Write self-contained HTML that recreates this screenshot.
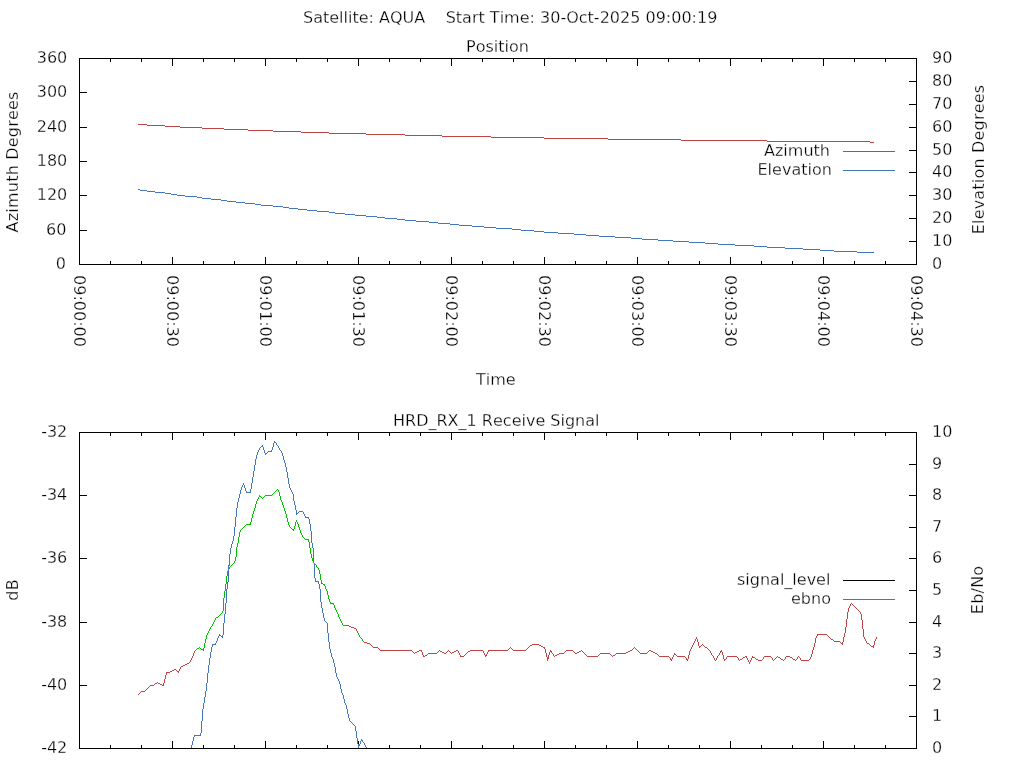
<!DOCTYPE html>
<html><head><meta charset="utf-8"><title>Satellite: AQUA</title>
<style>html,body{margin:0;padding:0;background:#fff;width:1024px;height:768px;overflow:hidden}svg{display:block;will-change:transform}text{fill:#000;stroke:#fff;stroke-width:0.28px;font-kerning:none;white-space:pre}</style>
</head><body>
<svg width="1024" height="768" viewBox="0 0 1024 768" font-family="DejaVu Sans, Liberation Sans, sans-serif" font-size="16" fill="#000" shape-rendering="crispEdges">
<text x="303" y="23" text-anchor="start" textLength="414.38" lengthAdjust="spacing" xml:space="preserve">Satellite: AQUA    Start Time: 30-Oct-2025 09:00:19</text>
<text x="466" y="52" text-anchor="start" textLength="62.92" lengthAdjust="spacing" >Position</text>
<rect x="79.5" y="58.5" width="837" height="206" fill="none" stroke="#000"/>
<rect x="110" y="261" width="1" height="4"/>
<rect x="110" y="58" width="1" height="4"/>
<rect x="141" y="261" width="1" height="4"/>
<rect x="141" y="58" width="1" height="4"/>
<rect x="172" y="257" width="1" height="8"/>
<rect x="172" y="58" width="1" height="8"/>
<rect x="203" y="261" width="1" height="4"/>
<rect x="203" y="58" width="1" height="4"/>
<rect x="234" y="261" width="1" height="4"/>
<rect x="234" y="58" width="1" height="4"/>
<rect x="265" y="257" width="1" height="8"/>
<rect x="265" y="58" width="1" height="8"/>
<rect x="296" y="261" width="1" height="4"/>
<rect x="296" y="58" width="1" height="4"/>
<rect x="327" y="261" width="1" height="4"/>
<rect x="327" y="58" width="1" height="4"/>
<rect x="358" y="257" width="1" height="8"/>
<rect x="358" y="58" width="1" height="8"/>
<rect x="389" y="261" width="1" height="4"/>
<rect x="389" y="58" width="1" height="4"/>
<rect x="420" y="261" width="1" height="4"/>
<rect x="420" y="58" width="1" height="4"/>
<rect x="451" y="257" width="1" height="8"/>
<rect x="451" y="58" width="1" height="8"/>
<rect x="482" y="261" width="1" height="4"/>
<rect x="482" y="58" width="1" height="4"/>
<rect x="513" y="261" width="1" height="4"/>
<rect x="513" y="58" width="1" height="4"/>
<rect x="544" y="257" width="1" height="8"/>
<rect x="544" y="58" width="1" height="8"/>
<rect x="575" y="261" width="1" height="4"/>
<rect x="575" y="58" width="1" height="4"/>
<rect x="606" y="261" width="1" height="4"/>
<rect x="606" y="58" width="1" height="4"/>
<rect x="637" y="257" width="1" height="8"/>
<rect x="637" y="58" width="1" height="8"/>
<rect x="668" y="261" width="1" height="4"/>
<rect x="668" y="58" width="1" height="4"/>
<rect x="699" y="261" width="1" height="4"/>
<rect x="699" y="58" width="1" height="4"/>
<rect x="730" y="257" width="1" height="8"/>
<rect x="730" y="58" width="1" height="8"/>
<rect x="761" y="261" width="1" height="4"/>
<rect x="761" y="58" width="1" height="4"/>
<rect x="792" y="261" width="1" height="4"/>
<rect x="792" y="58" width="1" height="4"/>
<rect x="823" y="257" width="1" height="8"/>
<rect x="823" y="58" width="1" height="8"/>
<rect x="854" y="261" width="1" height="4"/>
<rect x="854" y="58" width="1" height="4"/>
<rect x="885" y="261" width="1" height="4"/>
<rect x="885" y="58" width="1" height="4"/>
<rect x="79" y="264" width="8" height="1"/>
<text x="66" y="269" text-anchor="end" textLength="10.19" lengthAdjust="spacing" >0</text>
<rect x="79" y="230" width="8" height="1"/>
<text x="66.5" y="235" text-anchor="end" textLength="20.38" lengthAdjust="spacing" >60</text>
<rect x="79" y="195" width="8" height="1"/>
<text x="67.3" y="200" text-anchor="end" textLength="30.56" lengthAdjust="spacing" >120</text>
<rect x="79" y="161" width="8" height="1"/>
<text x="67.3" y="166" text-anchor="end" textLength="30.56" lengthAdjust="spacing" >180</text>
<rect x="79" y="127" width="8" height="1"/>
<text x="67.3" y="132" text-anchor="end" textLength="30.56" lengthAdjust="spacing" >240</text>
<rect x="79" y="92" width="8" height="1"/>
<text x="67.3" y="97" text-anchor="end" textLength="30.56" lengthAdjust="spacing" >300</text>
<rect x="79" y="58" width="8" height="1"/>
<text x="67.3" y="63" text-anchor="end" textLength="30.56" lengthAdjust="spacing" >360</text>
<rect x="909" y="264" width="8" height="1"/>
<text x="932" y="269" text-anchor="start" textLength="10.19" lengthAdjust="spacing" >0</text>
<rect x="909" y="241" width="8" height="1"/>
<text x="932" y="246" text-anchor="start" textLength="20.38" lengthAdjust="spacing" >10</text>
<rect x="909" y="218" width="8" height="1"/>
<text x="932" y="223" text-anchor="start" textLength="20.38" lengthAdjust="spacing" >20</text>
<rect x="909" y="195" width="8" height="1"/>
<text x="932" y="200" text-anchor="start" textLength="20.38" lengthAdjust="spacing" >30</text>
<rect x="909" y="172" width="8" height="1"/>
<text x="932" y="177" text-anchor="start" textLength="20.38" lengthAdjust="spacing" >40</text>
<rect x="909" y="150" width="8" height="1"/>
<text x="932" y="155" text-anchor="start" textLength="20.38" lengthAdjust="spacing" >50</text>
<rect x="909" y="127" width="8" height="1"/>
<text x="932" y="132" text-anchor="start" textLength="20.38" lengthAdjust="spacing" >60</text>
<rect x="909" y="104" width="8" height="1"/>
<text x="932" y="109" text-anchor="start" textLength="20.38" lengthAdjust="spacing" >70</text>
<rect x="909" y="81" width="8" height="1"/>
<text x="932" y="86" text-anchor="start" textLength="20.38" lengthAdjust="spacing" >80</text>
<rect x="909" y="58" width="8" height="1"/>
<text x="932" y="63" text-anchor="start" textLength="20.38" lengthAdjust="spacing" >90</text>
<text transform="translate(74,275) rotate(90)" x="0" y="0" text-anchor="start" textLength="71.91" lengthAdjust="spacing">09:00:00</text>
<text transform="translate(167,275) rotate(90)" x="0" y="0" text-anchor="start" textLength="71.91" lengthAdjust="spacing">09:00:30</text>
<text transform="translate(260,275) rotate(90)" x="0" y="0" text-anchor="start" textLength="71.91" lengthAdjust="spacing">09:01:00</text>
<text transform="translate(353,275) rotate(90)" x="0" y="0" text-anchor="start" textLength="71.91" lengthAdjust="spacing">09:01:30</text>
<text transform="translate(446,275) rotate(90)" x="0" y="0" text-anchor="start" textLength="71.91" lengthAdjust="spacing">09:02:00</text>
<text transform="translate(539,275) rotate(90)" x="0" y="0" text-anchor="start" textLength="71.91" lengthAdjust="spacing">09:02:30</text>
<text transform="translate(632,275) rotate(90)" x="0" y="0" text-anchor="start" textLength="71.91" lengthAdjust="spacing">09:03:00</text>
<text transform="translate(725,275) rotate(90)" x="0" y="0" text-anchor="start" textLength="71.91" lengthAdjust="spacing">09:03:30</text>
<text transform="translate(818,275) rotate(90)" x="0" y="0" text-anchor="start" textLength="71.91" lengthAdjust="spacing">09:04:00</text>
<text transform="translate(911,275) rotate(90)" x="0" y="0" text-anchor="start" textLength="71.91" lengthAdjust="spacing">09:04:30</text>
<text x="476" y="385" text-anchor="start" textLength="39.67" lengthAdjust="spacing" >Time</text>
<text transform="translate(18,162) rotate(-90)" x="0" y="0" text-anchor="middle" textLength="140.76" lengthAdjust="spacing">Azimuth Degrees</text>
<text transform="translate(983.5,159.6) rotate(-90)" x="0" y="0" text-anchor="middle" textLength="149.32" lengthAdjust="spacing">Elevation Degrees</text>
<text x="764" y="156" text-anchor="start" textLength="65.97" lengthAdjust="spacing" >Azimuth</text>
<line x1="843" y1="151.5" x2="895" y2="151.5" stroke="#c04444"/>
<text x="757.5" y="175" text-anchor="start" textLength="74.36" lengthAdjust="spacing" >Elevation</text>
<line x1="843" y1="170.5" x2="895" y2="170.5" stroke="#4277bd"/>
<text x="393" y="426" text-anchor="start" textLength="206.5" lengthAdjust="spacing" >HRD_RX_1 Receive Signal</text>
<rect x="79.5" y="432.5" width="837" height="316" fill="none" stroke="#000"/>
<rect x="110" y="745" width="1" height="4"/>
<rect x="110" y="432" width="1" height="4"/>
<rect x="141" y="745" width="1" height="4"/>
<rect x="141" y="432" width="1" height="4"/>
<rect x="172" y="741" width="1" height="8"/>
<rect x="172" y="432" width="1" height="8"/>
<rect x="203" y="745" width="1" height="4"/>
<rect x="203" y="432" width="1" height="4"/>
<rect x="234" y="745" width="1" height="4"/>
<rect x="234" y="432" width="1" height="4"/>
<rect x="265" y="741" width="1" height="8"/>
<rect x="265" y="432" width="1" height="8"/>
<rect x="296" y="745" width="1" height="4"/>
<rect x="296" y="432" width="1" height="4"/>
<rect x="327" y="745" width="1" height="4"/>
<rect x="327" y="432" width="1" height="4"/>
<rect x="358" y="741" width="1" height="8"/>
<rect x="358" y="432" width="1" height="8"/>
<rect x="389" y="745" width="1" height="4"/>
<rect x="389" y="432" width="1" height="4"/>
<rect x="420" y="745" width="1" height="4"/>
<rect x="420" y="432" width="1" height="4"/>
<rect x="451" y="741" width="1" height="8"/>
<rect x="451" y="432" width="1" height="8"/>
<rect x="482" y="745" width="1" height="4"/>
<rect x="482" y="432" width="1" height="4"/>
<rect x="513" y="745" width="1" height="4"/>
<rect x="513" y="432" width="1" height="4"/>
<rect x="544" y="741" width="1" height="8"/>
<rect x="544" y="432" width="1" height="8"/>
<rect x="575" y="745" width="1" height="4"/>
<rect x="575" y="432" width="1" height="4"/>
<rect x="606" y="745" width="1" height="4"/>
<rect x="606" y="432" width="1" height="4"/>
<rect x="637" y="741" width="1" height="8"/>
<rect x="637" y="432" width="1" height="8"/>
<rect x="668" y="745" width="1" height="4"/>
<rect x="668" y="432" width="1" height="4"/>
<rect x="699" y="745" width="1" height="4"/>
<rect x="699" y="432" width="1" height="4"/>
<rect x="730" y="741" width="1" height="8"/>
<rect x="730" y="432" width="1" height="8"/>
<rect x="761" y="745" width="1" height="4"/>
<rect x="761" y="432" width="1" height="4"/>
<rect x="792" y="745" width="1" height="4"/>
<rect x="792" y="432" width="1" height="4"/>
<rect x="823" y="741" width="1" height="8"/>
<rect x="823" y="432" width="1" height="8"/>
<rect x="854" y="745" width="1" height="4"/>
<rect x="854" y="432" width="1" height="4"/>
<rect x="885" y="745" width="1" height="4"/>
<rect x="885" y="432" width="1" height="4"/>
<rect x="79" y="748" width="8" height="1"/>
<text x="67.3" y="753" text-anchor="end" textLength="26.16" lengthAdjust="spacing" >-42</text>
<rect x="79" y="685" width="8" height="1"/>
<text x="67.3" y="690" text-anchor="end" textLength="26.16" lengthAdjust="spacing" >-40</text>
<rect x="79" y="622" width="8" height="1"/>
<text x="67.3" y="627" text-anchor="end" textLength="26.16" lengthAdjust="spacing" >-38</text>
<rect x="79" y="558" width="8" height="1"/>
<text x="67.3" y="563" text-anchor="end" textLength="26.16" lengthAdjust="spacing" >-36</text>
<rect x="79" y="495" width="8" height="1"/>
<text x="67.3" y="500" text-anchor="end" textLength="26.16" lengthAdjust="spacing" >-34</text>
<rect x="79" y="432" width="8" height="1"/>
<text x="67.3" y="437" text-anchor="end" textLength="26.16" lengthAdjust="spacing" >-32</text>
<rect x="909" y="748" width="8" height="1"/>
<text x="932" y="753" text-anchor="start" textLength="10.19" lengthAdjust="spacing" >0</text>
<rect x="909" y="716" width="8" height="1"/>
<text x="932" y="721" text-anchor="start" textLength="10.19" lengthAdjust="spacing" >1</text>
<rect x="909" y="685" width="8" height="1"/>
<text x="932" y="690" text-anchor="start" textLength="10.19" lengthAdjust="spacing" >2</text>
<rect x="909" y="653" width="8" height="1"/>
<text x="932" y="658" text-anchor="start" textLength="10.19" lengthAdjust="spacing" >3</text>
<rect x="909" y="622" width="8" height="1"/>
<text x="932" y="627" text-anchor="start" textLength="10.19" lengthAdjust="spacing" >4</text>
<rect x="909" y="590" width="8" height="1"/>
<text x="932" y="595" text-anchor="start" textLength="10.19" lengthAdjust="spacing" >5</text>
<rect x="909" y="558" width="8" height="1"/>
<text x="932" y="563" text-anchor="start" textLength="10.19" lengthAdjust="spacing" >6</text>
<rect x="909" y="527" width="8" height="1"/>
<text x="932" y="532" text-anchor="start" textLength="10.19" lengthAdjust="spacing" >7</text>
<rect x="909" y="495" width="8" height="1"/>
<text x="932" y="500" text-anchor="start" textLength="10.19" lengthAdjust="spacing" >8</text>
<rect x="909" y="464" width="8" height="1"/>
<text x="932" y="469" text-anchor="start" textLength="10.19" lengthAdjust="spacing" >9</text>
<rect x="909" y="432" width="8" height="1"/>
<text x="932" y="437" text-anchor="start" textLength="20.38" lengthAdjust="spacing" >10</text>
<text transform="translate(18,590) rotate(-90)" x="0" y="0" text-anchor="middle" textLength="21.56" lengthAdjust="spacing">dB</text>
<text transform="translate(983,590) rotate(-90)" x="0" y="0" text-anchor="middle" textLength="48.37" lengthAdjust="spacing">Eb/No</text>
<text x="737" y="585" text-anchor="start" textLength="93.42" lengthAdjust="spacing" >signal_level</text>
<line x1="843" y1="580.5" x2="895" y2="580.5" stroke="#000"/>
<text x="791" y="604" text-anchor="start" textLength="39.94" lengthAdjust="spacing" >ebno</text>
<line x1="843" y1="599.5" x2="895" y2="599.5" stroke="#4277bd"/>
<path d="M138 124h9v1h-9zM147 125h18v1h-18zM165 126h15v1h-15zM180 127h22v1h-22zM202 128h22v1h-22zM224 129h24v1h-24zM248 130h25v1h-25zM273 131h28v1h-28zM301 132h28v1h-28zM329 133h37v1h-37zM366 134h39v1h-39zM405 135h37v1h-37zM442 136h49v1h-49zM491 137h53v1h-53zM544 138h64v1h-64zM608 139h73v1h-73zM681 140h86v1h-86zM767 141h103v1h-103zM870 142h4v1h-4z" fill="#c04444"/>
<path d="M138 189h2v1h-2zM140 190h7v1h-7zM147 191h8v1h-8zM155 192h10v1h-10zM165 193h6v1h-6zM171 194h6v1h-6zM177 195h8v1h-8zM185 196h12v1h-12zM197 197h5v1h-5zM202 198h9v1h-9zM211 199h10v1h-10zM221 200h6v1h-6zM227 201h9v1h-9zM236 202h9v1h-9zM245 203h10v1h-10zM255 204h6v1h-6zM261 205h12v1h-12zM273 206h10v1h-10zM283 207h6v1h-6zM289 208h9v1h-9zM298 209h9v1h-9zM307 210h10v1h-10zM317 211h12v1h-12zM329 212h6v1h-6zM335 213h10v1h-10zM345 214h10v1h-10zM355 215h11v1h-11zM366 216h11v1h-11zM377 217h8v1h-8zM385 218h12v1h-12zM397 219h8v1h-8zM405 220h11v1h-11zM416 221h13v1h-13zM429 222h9v1h-9zM438 223h12v1h-12zM450 224h9v1h-9zM459 225h13v1h-13zM472 226h12v1h-12zM484 227h12v1h-12zM496 228h16v1h-16zM512 229h9v1h-9zM521 230h13v1h-13zM534 231h10v1h-10zM544 232h14v1h-14zM558 233h16v1h-16zM574 234h12v1h-12zM586 235h13v1h-13zM599 236h16v1h-16zM615 237h16v1h-16zM631 238h11v1h-11zM642 239h16v1h-16zM658 240h15v1h-15zM673 241h16v1h-16zM689 242h16v1h-16zM705 243h13v1h-13zM718 244h17v1h-17zM735 245h19v1h-19zM754 246h13v1h-13zM767 247h18v1h-18zM785 248h18v1h-18zM803 249h17v1h-17zM820 250h14v1h-14zM834 251h23v1h-23zM857 252h17v1h-17z" fill="#4277bd"/>
<g shape-rendering="crispEdges">
<path d="M194 651h1v1h-1zM194 652h1v1h-1zM193 653h1v1h-1zM193 654h1v1h-1zM193 655h1v1h-1zM192 656h1v1h-1zM192 657h1v1h-1zM191 658h1v1h-1zM191 659h1v1h-1zM190 660h1v1h-1zM190 661h1v1h-1zM189 662h1v1h-1zM187 663h2v1h-2zM185 664h2v1h-2zM183 665h2v1h-2zM181 666h2v1h-2zM180 667h1v1h-1zM180 668h1v1h-1zM174 669h2v1h-2zM179 669h1v1h-1zM172 670h2v1h-2zM176 670h1v1h-1zM179 670h1v1h-1zM170 671h2v1h-2zM177 671h2v1h-2zM166 672h4v1h-4zM178 672h1v1h-1zM166 673h1v1h-1zM166 674h1v1h-1zM165 675h1v1h-1zM165 676h1v1h-1zM165 677h1v1h-1zM165 678h1v1h-1zM164 679h1v1h-1zM164 680h1v1h-1zM164 681h1v1h-1zM157 682h1v1h-1zM164 682h1v1h-1zM155 683h2v1h-2zM158 683h2v1h-2zM163 683h1v1h-1zM154 684h1v1h-1zM160 684h2v1h-2zM163 684h1v1h-1zM150 685h4v1h-4zM162 685h2v1h-2zM149 686h1v1h-1zM148 687h1v1h-1zM147 688h1v1h-1zM146 689h1v1h-1zM145 690h1v1h-1zM141 691h4v1h-4zM140 692h1v1h-1zM139 693h1v1h-1zM138 694h1v1h-1z" fill="#c04444"/>
<path d="M277 489h1v1h-1zM276 490h1v1h-1zM278 490h1v1h-1zM275 491h1v1h-1zM278 491h1v1h-1zM274 492h1v1h-1zM279 492h1v1h-1zM273 493h1v1h-1zM279 493h1v1h-1zM272 494h1v1h-1zM279 494h1v1h-1zM259 495h1v1h-1zM265 495h7v1h-7zM279 495h1v1h-1zM259 496h2v1h-2zM264 496h1v1h-1zM280 496h1v1h-1zM258 497h1v1h-1zM261 497h1v1h-1zM263 497h1v1h-1zM280 497h1v1h-1zM258 498h1v1h-1zM262 498h1v1h-1zM280 498h1v1h-1zM257 499h1v1h-1zM280 499h1v1h-1zM257 500h1v1h-1zM281 500h1v1h-1zM256 501h1v1h-1zM281 501h1v1h-1zM256 502h1v1h-1zM282 502h1v1h-1zM256 503h1v1h-1zM282 503h1v1h-1zM255 504h1v1h-1zM282 504h1v1h-1zM255 505h1v1h-1zM283 505h1v1h-1zM255 506h1v1h-1zM283 506h1v1h-1zM255 507h1v1h-1zM283 507h1v1h-1zM254 508h1v1h-1zM284 508h1v1h-1zM254 509h1v1h-1zM284 509h1v1h-1zM254 510h1v1h-1zM284 510h1v1h-1zM253 511h1v1h-1zM285 511h1v1h-1zM253 512h1v1h-1zM285 512h1v1h-1zM253 513h1v1h-1zM285 513h1v1h-1zM252 514h1v1h-1zM286 514h1v1h-1zM252 515h1v1h-1zM286 515h1v1h-1zM252 516h1v1h-1zM286 516h1v1h-1zM252 517h1v1h-1zM286 517h1v1h-1zM251 518h1v1h-1zM287 518h1v1h-1zM251 519h1v1h-1zM287 519h1v1h-1zM251 520h1v1h-1zM287 520h1v1h-1zM296 520h1v1h-1zM251 521h1v1h-1zM287 521h1v1h-1zM296 521h1v1h-1zM250 522h1v1h-1zM288 522h1v1h-1zM295 522h1v1h-1zM297 522h1v1h-1zM250 523h1v1h-1zM288 523h1v1h-1zM295 523h1v1h-1zM297 523h1v1h-1zM246 524h5v1h-5zM288 524h1v1h-1zM295 524h1v1h-1zM298 524h1v1h-1zM245 525h1v1h-1zM289 525h1v1h-1zM295 525h1v1h-1zM298 525h1v1h-1zM244 526h1v1h-1zM289 526h1v1h-1zM294 526h1v1h-1zM298 526h1v1h-1zM243 527h1v1h-1zM290 527h1v1h-1zM294 527h1v1h-1zM299 527h1v1h-1zM242 528h1v1h-1zM291 528h1v1h-1zM294 528h1v1h-1zM299 528h1v1h-1zM241 529h1v1h-1zM292 529h2v1h-2zM299 529h1v1h-1zM240 530h1v1h-1zM293 530h1v1h-1zM300 530h1v1h-1zM240 531h1v1h-1zM300 531h1v1h-1zM239 532h1v1h-1zM300 532h1v1h-1zM239 533h1v1h-1zM301 533h1v1h-1zM239 534h1v1h-1zM301 534h1v1h-1zM239 535h1v1h-1zM302 535h1v1h-1zM239 536h1v1h-1zM302 536h1v1h-1zM238 537h1v1h-1zM303 537h1v1h-1zM238 538h1v1h-1zM304 538h1v1h-1zM238 539h1v1h-1zM305 539h4v1h-4zM238 540h1v1h-1zM308 540h1v1h-1zM238 541h1v1h-1zM308 541h1v1h-1zM238 542h1v1h-1zM309 542h1v1h-1zM237 543h1v1h-1zM309 543h1v1h-1zM237 544h1v1h-1zM309 544h1v1h-1zM237 545h1v1h-1zM309 545h1v1h-1zM237 546h1v1h-1zM309 546h1v1h-1zM236 547h1v1h-1zM309 547h1v1h-1zM236 548h1v1h-1zM310 548h1v1h-1zM236 549h1v1h-1zM310 549h1v1h-1zM236 550h1v1h-1zM310 550h1v1h-1zM236 551h1v1h-1zM310 551h1v1h-1zM236 552h1v1h-1zM310 552h1v1h-1zM236 553h1v1h-1zM310 553h1v1h-1zM236 554h1v1h-1zM311 554h1v1h-1zM236 555h1v1h-1zM311 555h1v1h-1zM236 556h1v1h-1zM311 556h1v1h-1zM235 557h1v1h-1zM311 557h1v1h-1zM235 558h1v1h-1zM312 558h1v1h-1zM235 559h1v1h-1zM312 559h1v1h-1zM235 560h1v1h-1zM312 560h1v1h-1zM234 561h1v1h-1zM313 561h1v1h-1zM234 562h1v1h-1zM313 562h1v1h-1zM233 563h1v1h-1zM314 563h1v1h-1zM232 564h1v1h-1zM315 564h1v1h-1zM231 565h1v1h-1zM316 565h1v1h-1zM230 566h1v1h-1zM316 566h1v1h-1zM229 567h1v1h-1zM317 567h1v1h-1zM229 568h1v1h-1zM318 568h1v1h-1zM228 569h1v1h-1zM318 569h1v1h-1zM228 570h1v1h-1zM319 570h1v1h-1zM227 571h1v1h-1zM319 571h1v1h-1zM227 572h1v1h-1zM319 572h1v1h-1zM227 573h1v1h-1zM319 573h1v1h-1zM227 574h1v1h-1zM320 574h1v1h-1zM227 575h1v1h-1zM320 575h1v1h-1zM226 576h1v1h-1zM320 576h1v1h-1zM226 577h1v1h-1zM320 577h1v1h-1zM226 578h1v1h-1zM320 578h1v1h-1zM226 579h1v1h-1zM320 579h1v1h-1zM226 580h1v1h-1zM321 580h1v1h-1zM226 581h1v1h-1zM321 581h1v1h-1zM226 582h1v1h-1zM321 582h1v1h-1zM226 583h1v1h-1zM321 583h2v1h-2zM225 584h1v1h-1zM323 584h2v1h-2zM225 585h1v1h-1zM324 585h1v1h-1zM225 586h1v1h-1zM325 586h1v1h-1zM225 587h1v1h-1zM325 587h1v1h-1zM225 588h1v1h-1zM325 588h1v1h-1zM225 589h1v1h-1zM326 589h1v1h-1zM225 590h1v1h-1zM326 590h1v1h-1zM224 591h1v1h-1zM327 591h1v1h-1zM224 592h1v1h-1zM327 592h1v1h-1zM224 593h1v1h-1zM327 593h1v1h-1zM224 594h1v1h-1zM327 594h1v1h-1zM224 595h1v1h-1zM328 595h1v1h-1zM224 596h1v1h-1zM328 596h1v1h-1zM224 597h1v1h-1zM328 597h1v1h-1zM223 598h1v1h-1zM328 598h1v1h-1zM223 599h1v1h-1zM329 599h1v1h-1zM223 600h1v1h-1zM329 600h1v1h-1zM223 601h1v1h-1zM329 601h1v1h-1zM223 602h1v1h-1zM330 602h1v1h-1zM223 603h1v1h-1zM330 603h4v1h-4zM223 604h1v1h-1zM333 604h1v1h-1zM223 605h1v1h-1zM334 605h1v1h-1zM223 606h1v1h-1zM334 606h1v1h-1zM223 607h1v1h-1zM334 607h1v1h-1zM223 608h1v1h-1zM335 608h1v1h-1zM223 609h1v1h-1zM335 609h1v1h-1zM223 610h1v1h-1zM336 610h1v1h-1zM222 611h1v1h-1zM336 611h1v1h-1zM222 612h1v1h-1zM337 612h1v1h-1zM221 613h1v1h-1zM337 613h1v1h-1zM220 614h1v1h-1zM338 614h1v1h-1zM219 615h1v1h-1zM338 615h1v1h-1zM218 616h1v1h-1zM338 616h1v1h-1zM216 617h2v1h-2zM339 617h1v1h-1zM215 618h1v1h-1zM339 618h1v1h-1zM215 619h1v1h-1zM340 619h1v1h-1zM214 620h1v1h-1zM340 620h1v1h-1zM214 621h1v1h-1zM341 621h1v1h-1zM213 622h1v1h-1zM341 622h1v1h-1zM213 623h1v1h-1zM342 623h1v1h-1zM212 624h1v1h-1zM342 624h1v1h-1zM212 625h1v1h-1zM343 625h6v1h-6zM211 626h1v1h-1zM210 627h1v1h-1zM210 628h1v1h-1zM209 629h1v1h-1zM209 630h1v1h-1zM208 631h1v1h-1zM208 632h1v1h-1zM207 633h1v1h-1zM207 634h1v1h-1zM206 635h1v1h-1zM206 636h1v1h-1zM206 637h1v1h-1zM206 638h1v1h-1zM205 639h1v1h-1zM205 640h1v1h-1zM205 641h1v1h-1zM205 642h1v1h-1zM204 643h1v1h-1zM204 644h1v1h-1zM204 645h1v1h-1zM204 646h1v1h-1zM199 647h1v1h-1zM204 647h1v1h-1zM197 648h2v1h-2zM200 648h1v1h-1zM203 648h1v1h-1zM196 649h1v1h-1zM201 649h3v1h-3zM195 650h1v1h-1zM203 650h1v1h-1zM194 651h1v1h-1z" fill="#00c000"/>
<path d="M348 625h1v1h-1zM349 626h2v1h-2zM351 627h3v1h-3zM354 628h2v1h-2zM356 629h1v1h-1zM356 630h1v1h-1zM357 631h1v1h-1zM357 632h1v1h-1zM358 633h1v1h-1zM358 634h1v1h-1z" fill="#c04444"/>
<path d="M358 634h1v1h-1zM359 635h1v1h-1zM359 636h1v1h-1zM360 637h1v1h-1zM361 638h1v1h-1zM362 639h1v1h-1zM362 640h1v1h-1zM363 641h1v1h-1z" fill="#00c000"/>
<path d="M851 603h1v1h-1zM850 604h1v1h-1zM852 604h1v1h-1zM850 605h1v1h-1zM853 605h1v1h-1zM849 606h1v1h-1zM854 606h1v1h-1zM849 607h1v1h-1zM855 607h1v1h-1zM848 608h1v1h-1zM856 608h1v1h-1zM848 609h1v1h-1zM857 609h1v1h-1zM848 610h1v1h-1zM858 610h1v1h-1zM848 611h1v1h-1zM859 611h1v1h-1zM847 612h1v1h-1zM860 612h1v1h-1zM847 613h1v1h-1zM860 613h1v1h-1zM847 614h1v1h-1zM861 614h1v1h-1zM847 615h1v1h-1zM861 615h1v1h-1zM847 616h1v1h-1zM861 616h1v1h-1zM847 617h1v1h-1zM861 617h1v1h-1zM847 618h1v1h-1zM861 618h1v1h-1zM846 619h1v1h-1zM861 619h1v1h-1zM846 620h1v1h-1zM862 620h1v1h-1zM846 621h1v1h-1zM862 621h1v1h-1zM846 622h1v1h-1zM862 622h1v1h-1zM846 623h1v1h-1zM862 623h1v1h-1zM846 624h1v1h-1zM862 624h1v1h-1zM846 625h1v1h-1zM862 625h1v1h-1zM846 626h1v1h-1zM862 626h1v1h-1zM845 627h1v1h-1zM862 627h1v1h-1zM845 628h1v1h-1zM862 628h1v1h-1zM845 629h1v1h-1zM863 629h1v1h-1zM845 630h1v1h-1zM863 630h1v1h-1zM845 631h1v1h-1zM863 631h1v1h-1zM845 632h1v1h-1zM863 632h1v1h-1zM844 633h1v1h-1zM863 633h1v1h-1zM817 634h10v1h-10zM844 634h1v1h-1zM863 634h1v1h-1zM817 635h1v1h-1zM827 635h1v1h-1zM844 635h1v1h-1zM863 635h1v1h-1zM816 636h1v1h-1zM828 636h1v1h-1zM844 636h1v1h-1zM863 636h1v1h-1zM696 637h1v1h-1zM816 637h1v1h-1zM829 637h1v1h-1zM843 637h1v1h-1zM864 637h1v1h-1zM876 637h1v1h-1zM696 638h1v1h-1zM815 638h1v1h-1zM830 638h1v1h-1zM843 638h1v1h-1zM864 638h1v1h-1zM876 638h1v1h-1zM695 639h1v1h-1zM697 639h1v1h-1zM815 639h1v1h-1zM831 639h2v1h-2zM843 639h1v1h-1zM865 639h1v1h-1zM875 639h1v1h-1zM695 640h1v1h-1zM697 640h1v1h-1zM815 640h1v1h-1zM833 640h1v1h-1zM843 640h1v1h-1zM865 640h1v1h-1zM875 640h1v1h-1zM363 641h1v1h-1zM694 641h1v1h-1zM697 641h1v1h-1zM815 641h1v1h-1zM834 641h6v1h-6zM843 641h1v1h-1zM866 641h1v1h-1zM874 641h1v1h-1zM364 642h3v1h-3zM694 642h1v1h-1zM698 642h1v1h-1zM815 642h1v1h-1zM840 642h1v1h-1zM842 642h1v1h-1zM866 642h1v1h-1zM874 642h1v1h-1zM367 643h3v1h-3zM693 643h1v1h-1zM698 643h1v1h-1zM814 643h1v1h-1zM841 643h2v1h-2zM867 643h2v1h-2zM874 643h1v1h-1zM370 644h1v1h-1zM532 644h7v1h-7zM693 644h1v1h-1zM698 644h1v1h-1zM702 644h1v1h-1zM814 644h1v1h-1zM842 644h1v1h-1zM869 644h1v1h-1zM874 644h1v1h-1zM371 645h1v1h-1zM530 645h2v1h-2zM539 645h2v1h-2zM692 645h1v1h-1zM698 645h1v1h-1zM701 645h1v1h-1zM703 645h1v1h-1zM814 645h1v1h-1zM870 645h1v1h-1zM873 645h1v1h-1zM372 646h1v1h-1zM529 646h1v1h-1zM541 646h2v1h-2zM692 646h1v1h-1zM699 646h2v1h-2zM704 646h1v1h-1zM814 646h1v1h-1zM871 646h3v1h-3zM373 647h5v1h-5zM510 647h1v1h-1zM528 647h1v1h-1zM543 647h2v1h-2zM634 647h1v1h-1zM691 647h1v1h-1zM699 647h1v1h-1zM705 647h2v1h-2zM813 647h1v1h-1zM873 647h1v1h-1zM378 648h1v1h-1zM509 648h1v1h-1zM511 648h1v1h-1zM527 648h1v1h-1zM544 648h1v1h-1zM633 648h1v1h-1zM635 648h1v1h-1zM691 648h1v1h-1zM707 648h1v1h-1zM813 648h1v1h-1zM379 649h1v1h-1zM508 649h1v1h-1zM512 649h1v1h-1zM526 649h1v1h-1zM545 649h1v1h-1zM632 649h1v1h-1zM636 649h1v1h-1zM690 649h1v1h-1zM708 649h1v1h-1zM813 649h1v1h-1zM380 650h32v1h-32zM419 650h3v1h-3zM439 650h1v1h-1zM448 650h1v1h-1zM456 650h2v1h-2zM470 650h13v1h-13zM488 650h20v1h-20zM513 650h13v1h-13zM545 650h1v1h-1zM550 650h1v1h-1zM566 650h7v1h-7zM581 650h1v1h-1zM630 650h2v1h-2zM637 650h1v1h-1zM649 650h2v1h-2zM690 650h1v1h-1zM709 650h1v1h-1zM721 650h1v1h-1zM812 650h1v1h-1zM412 651h1v1h-1zM417 651h2v1h-2zM421 651h1v1h-1zM438 651h1v1h-1zM440 651h2v1h-2zM447 651h1v1h-1zM449 651h1v1h-1zM454 651h2v1h-2zM458 651h1v1h-1zM468 651h2v1h-2zM483 651h1v1h-1zM488 651h1v1h-1zM545 651h1v1h-1zM550 651h2v1h-2zM565 651h1v1h-1zM573 651h1v1h-1zM579 651h2v1h-2zM582 651h1v1h-1zM628 651h2v1h-2zM638 651h1v1h-1zM648 651h1v1h-1zM651 651h2v1h-2zM689 651h1v1h-1zM710 651h1v1h-1zM720 651h2v1h-2zM812 651h1v1h-1zM413 652h1v1h-1zM415 652h2v1h-2zM422 652h1v1h-1zM437 652h1v1h-1zM442 652h2v1h-2zM446 652h1v1h-1zM450 652h1v1h-1zM452 652h2v1h-2zM458 652h1v1h-1zM467 652h1v1h-1zM483 652h1v1h-1zM487 652h1v1h-1zM545 652h1v1h-1zM549 652h1v1h-1zM551 652h1v1h-1zM564 652h1v1h-1zM574 652h1v1h-1zM577 652h2v1h-2zM583 652h1v1h-1zM626 652h2v1h-2zM639 652h1v1h-1zM647 652h1v1h-1zM653 652h2v1h-2zM689 652h1v1h-1zM710 652h1v1h-1zM720 652h1v1h-1zM722 652h1v1h-1zM812 652h1v1h-1zM414 653h1v1h-1zM422 653h1v1h-1zM428 653h9v1h-9zM444 653h2v1h-2zM451 653h1v1h-1zM459 653h1v1h-1zM466 653h1v1h-1zM484 653h1v1h-1zM487 653h1v1h-1zM546 653h1v1h-1zM549 653h1v1h-1zM552 653h1v1h-1zM559 653h5v1h-5zM575 653h2v1h-2zM584 653h1v1h-1zM600 653h10v1h-10zM616 653h10v1h-10zM640 653h7v1h-7zM655 653h2v1h-2zM674 653h1v1h-1zM689 653h1v1h-1zM711 653h1v1h-1zM719 653h1v1h-1zM722 653h1v1h-1zM812 653h1v1h-1zM422 654h1v1h-1zM427 654h1v1h-1zM459 654h1v1h-1zM465 654h1v1h-1zM484 654h1v1h-1zM486 654h1v1h-1zM546 654h1v1h-1zM549 654h1v1h-1zM553 654h1v1h-1zM557 654h2v1h-2zM585 654h1v1h-1zM599 654h1v1h-1zM610 654h1v1h-1zM615 654h1v1h-1zM657 654h1v1h-1zM674 654h2v1h-2zM689 654h1v1h-1zM711 654h1v1h-1zM719 654h1v1h-1zM722 654h1v1h-1zM811 654h1v1h-1zM423 655h1v1h-1zM425 655h2v1h-2zM460 655h1v1h-1zM464 655h1v1h-1zM485 655h2v1h-2zM546 655h1v1h-1zM548 655h1v1h-1zM553 655h1v1h-1zM555 655h2v1h-2zM586 655h1v1h-1zM598 655h1v1h-1zM611 655h1v1h-1zM613 655h2v1h-2zM658 655h1v1h-1zM673 655h1v1h-1zM676 655h1v1h-1zM688 655h1v1h-1zM712 655h1v1h-1zM718 655h1v1h-1zM723 655h1v1h-1zM811 655h1v1h-1zM423 656h2v1h-2zM460 656h4v1h-4zM485 656h1v1h-1zM546 656h1v1h-1zM548 656h1v1h-1zM554 656h1v1h-1zM587 656h11v1h-11zM612 656h1v1h-1zM659 656h10v1h-10zM673 656h1v1h-1zM677 656h8v1h-8zM688 656h1v1h-1zM713 656h1v1h-1zM717 656h1v1h-1zM723 656h1v1h-1zM727 656h10v1h-10zM745 656h2v1h-2zM752 656h1v1h-1zM764 656h7v1h-7zM777 656h1v1h-1zM786 656h4v1h-4zM798 656h1v1h-1zM811 656h1v1h-1zM547 657h2v1h-2zM669 657h1v1h-1zM672 657h1v1h-1zM685 657h1v1h-1zM688 657h1v1h-1zM713 657h1v1h-1zM717 657h1v1h-1zM723 657h1v1h-1zM726 657h1v1h-1zM737 657h1v1h-1zM743 657h2v1h-2zM746 657h1v1h-1zM752 657h3v1h-3zM763 657h1v1h-1zM771 657h1v1h-1zM776 657h1v1h-1zM778 657h2v1h-2zM785 657h1v1h-1zM790 657h2v1h-2zM797 657h1v1h-1zM799 657h1v1h-1zM810 657h1v1h-1zM547 658h2v1h-2zM670 658h1v1h-1zM672 658h1v1h-1zM686 658h1v1h-1zM688 658h1v1h-1zM714 658h1v1h-1zM716 658h1v1h-1zM723 658h1v1h-1zM726 658h1v1h-1zM738 658h1v1h-1zM742 658h1v1h-1zM747 658h1v1h-1zM751 658h1v1h-1zM755 658h1v1h-1zM763 658h1v1h-1zM772 658h1v1h-1zM775 658h1v1h-1zM780 658h1v1h-1zM785 658h1v1h-1zM792 658h1v1h-1zM797 658h1v1h-1zM800 658h1v1h-1zM810 658h1v1h-1zM547 659h1v1h-1zM670 659h2v1h-2zM686 659h2v1h-2zM714 659h1v1h-1zM716 659h1v1h-1zM724 659h2v1h-2zM738 659h1v1h-1zM740 659h2v1h-2zM747 659h1v1h-1zM751 659h1v1h-1zM756 659h2v1h-2zM762 659h1v1h-1zM772 659h1v1h-1zM774 659h1v1h-1zM781 659h2v1h-2zM784 659h1v1h-1zM793 659h2v1h-2zM796 659h1v1h-1zM800 659h1v1h-1zM809 659h1v1h-1zM547 660h1v1h-1zM671 660h1v1h-1zM687 660h1v1h-1zM715 660h1v1h-1zM724 660h1v1h-1zM739 660h1v1h-1zM748 660h1v1h-1zM750 660h1v1h-1zM758 660h4v1h-4zM773 660h1v1h-1zM783 660h1v1h-1zM795 660h1v1h-1zM801 660h8v1h-8zM748 661h1v1h-1zM750 661h1v1h-1zM749 662h1v1h-1zM749 663h1v1h-1z" fill="#c04444"/>
<path d="M274 441h1v1h-1zM274 442h2v1h-2zM273 443h1v1h-1zM276 443h1v1h-1zM273 444h1v1h-1zM276 444h1v1h-1zM262 445h1v1h-1zM273 445h1v1h-1zM277 445h1v1h-1zM261 446h2v1h-2zM273 446h1v1h-1zM278 446h1v1h-1zM260 447h1v1h-1zM263 447h1v1h-1zM272 447h1v1h-1zM278 447h1v1h-1zM259 448h1v1h-1zM263 448h1v1h-1zM272 448h1v1h-1zM279 448h1v1h-1zM259 449h1v1h-1zM263 449h1v1h-1zM272 449h1v1h-1zM279 449h1v1h-1zM258 450h1v1h-1zM264 450h1v1h-1zM271 450h1v1h-1zM280 450h1v1h-1zM258 451h1v1h-1zM264 451h1v1h-1zM268 451h4v1h-4zM281 451h1v1h-1zM257 452h1v1h-1zM264 452h1v1h-1zM267 452h1v1h-1zM281 452h1v1h-1zM257 453h1v1h-1zM265 453h2v1h-2zM282 453h1v1h-1zM257 454h1v1h-1zM265 454h1v1h-1zM282 454h1v1h-1zM256 455h1v1h-1zM282 455h1v1h-1zM256 456h1v1h-1zM283 456h1v1h-1zM256 457h1v1h-1zM283 457h1v1h-1zM256 458h1v1h-1zM283 458h1v1h-1zM255 459h1v1h-1zM283 459h1v1h-1zM255 460h1v1h-1zM284 460h1v1h-1zM255 461h1v1h-1zM284 461h1v1h-1zM255 462h1v1h-1zM284 462h1v1h-1zM255 463h1v1h-1zM285 463h1v1h-1zM255 464h1v1h-1zM285 464h1v1h-1zM254 465h1v1h-1zM285 465h1v1h-1zM254 466h1v1h-1zM285 466h1v1h-1zM254 467h1v1h-1zM286 467h1v1h-1zM254 468h1v1h-1zM286 468h1v1h-1zM254 469h1v1h-1zM286 469h1v1h-1zM254 470h1v1h-1zM286 470h1v1h-1zM253 471h1v1h-1zM286 471h1v1h-1zM253 472h1v1h-1zM287 472h1v1h-1zM253 473h1v1h-1zM287 473h1v1h-1zM253 474h1v1h-1zM287 474h1v1h-1zM253 475h1v1h-1zM287 475h1v1h-1zM253 476h1v1h-1zM287 476h1v1h-1zM252 477h1v1h-1zM287 477h1v1h-1zM252 478h1v1h-1zM288 478h1v1h-1zM252 479h1v1h-1zM288 479h1v1h-1zM252 480h1v1h-1zM288 480h1v1h-1zM252 481h1v1h-1zM288 481h1v1h-1zM252 482h1v1h-1zM288 482h1v1h-1zM243 483h1v1h-1zM251 483h1v1h-1zM288 483h1v1h-1zM243 484h1v1h-1zM251 484h1v1h-1zM289 484h1v1h-1zM242 485h1v1h-1zM244 485h1v1h-1zM251 485h1v1h-1zM289 485h1v1h-1zM242 486h1v1h-1zM244 486h1v1h-1zM251 486h1v1h-1zM289 486h1v1h-1zM241 487h1v1h-1zM244 487h1v1h-1zM251 487h1v1h-1zM289 487h1v1h-1zM241 488h1v1h-1zM245 488h1v1h-1zM251 488h1v1h-1zM290 488h1v1h-1zM241 489h1v1h-1zM245 489h1v1h-1zM250 489h1v1h-1zM290 489h1v1h-1zM240 490h1v1h-1zM245 490h1v1h-1zM250 490h1v1h-1zM291 490h1v1h-1zM240 491h1v1h-1zM246 491h1v1h-1zM250 491h1v1h-1zM291 491h1v1h-1zM240 492h1v1h-1zM246 492h5v1h-5zM292 492h1v1h-1zM240 493h1v1h-1zM292 493h1v1h-1zM239 494h1v1h-1zM293 494h1v1h-1zM239 495h1v1h-1zM293 495h1v1h-1zM239 496h1v1h-1zM293 496h1v1h-1zM239 497h1v1h-1zM293 497h1v1h-1zM238 498h1v1h-1zM293 498h1v1h-1zM238 499h1v1h-1zM293 499h1v1h-1zM238 500h1v1h-1zM293 500h1v1h-1zM238 501h1v1h-1zM294 501h1v1h-1zM237 502h1v1h-1zM294 502h1v1h-1zM237 503h1v1h-1zM294 503h1v1h-1zM237 504h1v1h-1zM294 504h1v1h-1zM237 505h1v1h-1zM295 505h1v1h-1zM237 506h1v1h-1zM295 506h1v1h-1zM237 507h1v1h-1zM295 507h1v1h-1zM236 508h1v1h-1zM295 508h1v1h-1zM236 509h1v1h-1zM295 509h1v1h-1zM236 510h1v1h-1zM296 510h1v1h-1zM236 511h1v1h-1zM296 511h1v1h-1zM299 511h4v1h-4zM236 512h1v1h-1zM296 512h1v1h-1zM298 512h1v1h-1zM303 512h1v1h-1zM236 513h1v1h-1zM296 513h2v1h-2zM303 513h1v1h-1zM236 514h1v1h-1zM296 514h1v1h-1zM304 514h1v1h-1zM236 515h1v1h-1zM304 515h1v1h-1zM236 516h1v1h-1zM305 516h1v1h-1zM235 517h1v1h-1zM305 517h4v1h-4zM235 518h1v1h-1zM308 518h1v1h-1zM235 519h1v1h-1zM309 519h1v1h-1zM235 520h1v1h-1zM309 520h1v1h-1zM235 521h1v1h-1zM309 521h1v1h-1zM235 522h1v1h-1zM309 522h1v1h-1zM235 523h1v1h-1zM309 523h1v1h-1zM235 524h1v1h-1zM310 524h1v1h-1zM235 525h1v1h-1zM310 525h1v1h-1zM235 526h1v1h-1zM310 526h1v1h-1zM234 527h1v1h-1zM310 527h1v1h-1zM234 528h1v1h-1zM310 528h1v1h-1zM234 529h1v1h-1zM310 529h1v1h-1zM234 530h1v1h-1zM310 530h1v1h-1zM234 531h1v1h-1zM311 531h1v1h-1zM234 532h1v1h-1zM311 532h1v1h-1zM234 533h1v1h-1zM311 533h1v1h-1zM234 534h1v1h-1zM311 534h1v1h-1zM234 535h1v1h-1zM311 535h1v1h-1zM233 536h1v1h-1zM311 536h1v1h-1zM233 537h1v1h-1zM311 537h1v1h-1zM233 538h1v1h-1zM311 538h1v1h-1zM233 539h1v1h-1zM311 539h1v1h-1zM233 540h1v1h-1zM311 540h1v1h-1zM232 541h1v1h-1zM311 541h1v1h-1zM232 542h1v1h-1zM311 542h1v1h-1zM232 543h1v1h-1zM312 543h1v1h-1zM231 544h1v1h-1zM312 544h1v1h-1zM231 545h1v1h-1zM312 545h1v1h-1zM231 546h1v1h-1zM312 546h1v1h-1zM231 547h1v1h-1zM312 547h1v1h-1zM230 548h1v1h-1zM313 548h1v1h-1zM230 549h1v1h-1zM313 549h1v1h-1zM230 550h1v1h-1zM313 550h1v1h-1zM230 551h1v1h-1zM313 551h1v1h-1zM230 552h1v1h-1zM313 552h1v1h-1zM230 553h1v1h-1zM313 553h1v1h-1zM229 554h1v1h-1zM313 554h1v1h-1zM229 555h1v1h-1zM313 555h1v1h-1zM229 556h1v1h-1zM313 556h1v1h-1zM229 557h1v1h-1zM313 557h1v1h-1zM229 558h1v1h-1zM313 558h1v1h-1zM229 559h1v1h-1zM313 559h1v1h-1zM229 560h1v1h-1zM313 560h1v1h-1zM229 561h1v1h-1zM313 561h1v1h-1zM229 562h1v1h-1zM313 562h1v1h-1zM229 563h1v1h-1zM314 563h1v1h-1zM229 564h1v1h-1zM314 564h1v1h-1zM228 565h2v1h-2zM314 565h1v1h-1zM228 566h1v1h-1zM314 566h1v1h-1zM228 567h1v1h-1zM314 567h1v1h-1zM228 568h1v1h-1zM314 568h1v1h-1zM228 569h1v1h-1zM314 569h1v1h-1zM228 570h1v1h-1zM314 570h1v1h-1zM228 571h1v1h-1zM314 571h1v1h-1zM228 572h1v1h-1zM314 572h1v1h-1zM228 573h1v1h-1zM314 573h1v1h-1zM228 574h1v1h-1zM314 574h1v1h-1zM228 575h1v1h-1zM314 575h1v1h-1zM228 576h1v1h-1zM314 576h1v1h-1zM228 577h1v1h-1zM314 577h1v1h-1zM228 578h1v1h-1zM315 578h1v1h-1zM228 579h1v1h-1zM315 579h1v1h-1zM228 580h1v1h-1zM315 580h1v1h-1zM228 581h1v1h-1zM315 581h4v1h-4zM227 582h1v1h-1zM318 582h1v1h-1zM227 583h1v1h-1zM318 583h1v1h-1zM227 584h1v1h-1zM319 584h1v1h-1zM227 585h1v1h-1zM319 585h1v1h-1zM227 586h1v1h-1zM319 586h1v1h-1zM227 587h1v1h-1zM319 587h1v1h-1zM227 588h1v1h-1zM319 588h1v1h-1zM226 589h1v1h-1zM320 589h1v1h-1zM226 590h1v1h-1zM320 590h1v1h-1zM226 591h1v1h-1zM320 591h1v1h-1zM226 592h1v1h-1zM320 592h1v1h-1zM226 593h1v1h-1zM320 593h1v1h-1zM226 594h1v1h-1zM320 594h1v1h-1zM226 595h1v1h-1zM320 595h1v1h-1zM226 596h1v1h-1zM320 596h1v1h-1zM226 597h1v1h-1zM320 597h1v1h-1zM226 598h1v1h-1zM320 598h1v1h-1zM226 599h1v1h-1zM320 599h1v1h-1zM226 600h1v1h-1zM320 600h1v1h-1zM226 601h1v1h-1zM320 601h1v1h-1zM226 602h1v1h-1zM321 602h1v1h-1zM225 603h1v1h-1zM321 603h1v1h-1zM225 604h1v1h-1zM321 604h1v1h-1zM225 605h1v1h-1zM321 605h1v1h-1zM225 606h1v1h-1zM321 606h1v1h-1zM225 607h1v1h-1zM321 607h1v1h-1zM225 608h1v1h-1zM322 608h1v1h-1zM225 609h1v1h-1zM322 609h1v1h-1zM225 610h1v1h-1zM322 610h1v1h-1zM225 611h1v1h-1zM322 611h1v1h-1zM225 612h1v1h-1zM322 612h1v1h-1zM225 613h1v1h-1zM323 613h1v1h-1zM224 614h1v1h-1zM323 614h1v1h-1zM224 615h1v1h-1zM323 615h1v1h-1zM224 616h1v1h-1zM323 616h1v1h-1zM224 617h1v1h-1zM323 617h1v1h-1zM224 618h1v1h-1zM324 618h1v1h-1zM224 619h1v1h-1zM324 619h1v1h-1zM224 620h1v1h-1zM324 620h1v1h-1zM224 621h1v1h-1zM325 621h1v1h-1zM224 622h1v1h-1zM326 622h1v1h-1zM223 623h1v1h-1zM327 623h1v1h-1zM223 624h1v1h-1zM327 624h1v1h-1zM223 625h1v1h-1zM327 625h1v1h-1zM223 626h1v1h-1zM327 626h1v1h-1zM223 627h1v1h-1zM327 627h1v1h-1zM223 628h1v1h-1zM327 628h1v1h-1zM223 629h1v1h-1zM327 629h1v1h-1zM223 630h1v1h-1zM327 630h1v1h-1zM223 631h1v1h-1zM327 631h1v1h-1zM223 632h1v1h-1zM327 632h1v1h-1zM223 633h1v1h-1zM328 633h1v1h-1zM219 634h1v1h-1zM223 634h1v1h-1zM328 634h1v1h-1zM219 635h2v1h-2zM222 635h1v1h-1zM328 635h1v1h-1zM218 636h1v1h-1zM221 636h2v1h-2zM328 636h1v1h-1zM218 637h1v1h-1zM222 637h1v1h-1zM328 637h1v1h-1zM217 638h1v1h-1zM328 638h1v1h-1zM217 639h1v1h-1zM328 639h1v1h-1zM217 640h1v1h-1zM328 640h1v1h-1zM216 641h1v1h-1zM328 641h1v1h-1zM216 642h1v1h-1zM329 642h1v1h-1zM215 643h1v1h-1zM329 643h1v1h-1zM212 644h4v1h-4zM329 644h1v1h-1zM212 645h1v1h-1zM329 645h1v1h-1zM212 646h1v1h-1zM329 646h1v1h-1zM211 647h1v1h-1zM329 647h1v1h-1zM211 648h1v1h-1zM329 648h1v1h-1zM211 649h1v1h-1zM330 649h1v1h-1zM211 650h1v1h-1zM330 650h1v1h-1zM211 651h1v1h-1zM330 651h1v1h-1zM210 652h1v1h-1zM330 652h1v1h-1zM210 653h1v1h-1zM331 653h1v1h-1zM210 654h1v1h-1zM331 654h1v1h-1zM210 655h1v1h-1zM331 655h1v1h-1zM210 656h1v1h-1zM331 656h1v1h-1zM210 657h1v1h-1zM332 657h1v1h-1zM209 658h1v1h-1zM332 658h1v1h-1zM209 659h1v1h-1zM333 659h1v1h-1zM209 660h1v1h-1zM333 660h1v1h-1zM209 661h1v1h-1zM333 661h1v1h-1zM209 662h1v1h-1zM333 662h1v1h-1zM209 663h1v1h-1zM334 663h1v1h-1zM209 664h1v1h-1zM334 664h1v1h-1zM208 665h1v1h-1zM334 665h1v1h-1zM208 666h1v1h-1zM334 666h1v1h-1zM208 667h1v1h-1zM335 667h1v1h-1zM208 668h1v1h-1zM335 668h1v1h-1zM208 669h1v1h-1zM335 669h1v1h-1zM208 670h1v1h-1zM335 670h1v1h-1zM208 671h1v1h-1zM335 671h1v1h-1zM208 672h1v1h-1zM335 672h1v1h-1zM207 673h1v1h-1zM336 673h1v1h-1zM207 674h1v1h-1zM336 674h1v1h-1zM207 675h1v1h-1zM336 675h1v1h-1zM207 676h1v1h-1zM336 676h1v1h-1zM207 677h1v1h-1zM337 677h1v1h-1zM207 678h1v1h-1zM337 678h1v1h-1zM207 679h1v1h-1zM338 679h1v1h-1zM207 680h1v1h-1zM338 680h1v1h-1zM207 681h1v1h-1zM339 681h1v1h-1zM207 682h1v1h-1zM339 682h1v1h-1zM206 683h1v1h-1zM339 683h1v1h-1zM206 684h1v1h-1zM340 684h1v1h-1zM206 685h1v1h-1zM340 685h1v1h-1zM206 686h1v1h-1zM340 686h1v1h-1zM206 687h1v1h-1zM340 687h1v1h-1zM206 688h1v1h-1zM340 688h1v1h-1zM206 689h1v1h-1zM341 689h1v1h-1zM206 690h1v1h-1zM341 690h1v1h-1zM205 691h1v1h-1zM341 691h1v1h-1zM205 692h1v1h-1zM341 692h1v1h-1zM205 693h1v1h-1zM342 693h1v1h-1zM205 694h1v1h-1zM342 694h1v1h-1zM205 695h1v1h-1zM343 695h1v1h-1zM205 696h1v1h-1zM343 696h1v1h-1zM204 697h1v1h-1zM343 697h1v1h-1zM204 698h1v1h-1zM343 698h1v1h-1zM204 699h1v1h-1zM344 699h1v1h-1zM204 700h1v1h-1zM344 700h1v1h-1zM204 701h1v1h-1zM344 701h1v1h-1zM204 702h1v1h-1zM344 702h1v1h-1zM203 703h1v1h-1zM345 703h1v1h-1zM203 704h1v1h-1zM345 704h1v1h-1zM203 705h1v1h-1zM346 705h1v1h-1zM203 706h1v1h-1zM346 706h1v1h-1zM203 707h1v1h-1zM346 707h1v1h-1zM203 708h1v1h-1zM346 708h1v1h-1zM202 709h1v1h-1zM347 709h1v1h-1zM202 710h1v1h-1zM347 710h1v1h-1zM202 711h1v1h-1zM347 711h1v1h-1zM202 712h1v1h-1zM347 712h1v1h-1zM202 713h1v1h-1zM347 713h1v1h-1zM202 714h1v1h-1zM348 714h1v1h-1zM202 715h1v1h-1zM348 715h1v1h-1zM202 716h1v1h-1zM348 716h1v1h-1zM202 717h1v1h-1zM348 717h1v1h-1zM202 718h1v1h-1zM349 718h1v1h-1zM202 719h1v1h-1zM349 719h1v1h-1zM202 720h1v1h-1zM349 720h1v1h-1zM201 721h1v1h-1zM350 721h1v1h-1zM201 722h1v1h-1zM351 722h1v1h-1zM201 723h1v1h-1zM352 723h1v1h-1zM201 724h1v1h-1zM353 724h1v1h-1zM201 725h1v1h-1zM354 725h1v1h-1zM201 726h1v1h-1zM355 726h1v1h-1zM201 727h1v1h-1zM355 727h1v1h-1zM201 728h1v1h-1zM355 728h1v1h-1zM201 729h1v1h-1zM355 729h1v1h-1zM201 730h1v1h-1zM355 730h1v1h-1zM201 731h1v1h-1zM356 731h1v1h-1zM201 732h1v1h-1zM356 732h1v1h-1zM200 733h1v1h-1zM356 733h1v1h-1zM200 734h1v1h-1zM356 734h1v1h-1zM194 735h7v1h-7zM356 735h1v1h-1zM194 736h1v1h-1zM356 736h1v1h-1zM193 737h1v1h-1zM356 737h1v1h-1zM193 738h1v1h-1zM357 738h1v1h-1zM193 739h1v1h-1zM357 739h1v1h-1zM193 740h1v1h-1zM357 740h1v1h-1zM192 741h1v1h-1zM357 741h1v1h-1zM192 742h1v1h-1zM357 742h1v1h-1zM192 743h1v1h-1zM357 743h1v1h-1zM192 744h1v1h-1zM358 744h1v1h-1zM191 745h1v1h-1zM358 745h1v1h-1zM191 746h1v1h-1zM358 746h1v1h-1zM191 747h1v1h-1zM358 747h1v1h-1z" fill="#4277bd"/>
<path d="M361 739h1v1h-1zM361 740h2v1h-2zM360 741h1v1h-1zM362 741h1v1h-1zM360 742h1v1h-1zM363 742h1v1h-1zM360 743h1v1h-1zM364 743h1v1h-1zM359 744h1v1h-1zM364 744h1v1h-1zM359 745h1v1h-1zM365 745h1v1h-1zM358 746h1v1h-1zM365 746h1v1h-1zM358 747h1v1h-1zM366 747h1v1h-1z" fill="#4277bd"/>
</g>
</svg>
</body></html>
